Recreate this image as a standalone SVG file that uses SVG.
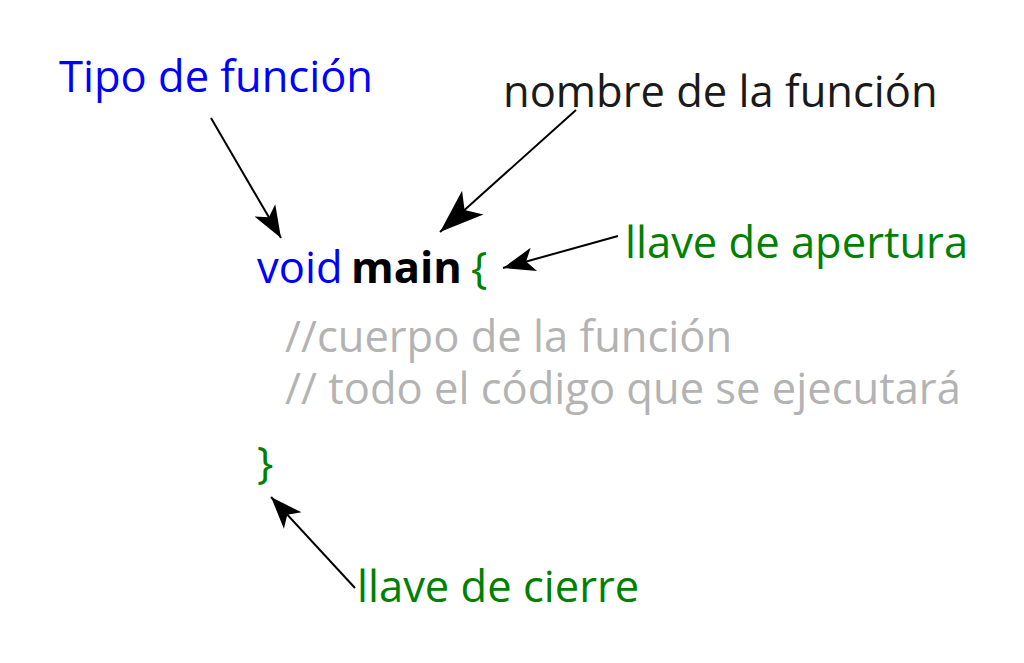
<svg xmlns="http://www.w3.org/2000/svg" width="1024" height="663" viewBox="0 0 1024 663">
<defs>
<style>
text{font-family:"Open Sans","Noto Sans","DejaVu Sans",sans-serif;font-size:43.5px}
.blue{fill:#0000ff}
.green{fill:#008000}
.dark{fill:#1a1a1a}
.gray{fill:#b3b3b3}
.bold{font-weight:bold;fill:#000}
.conn{stroke:#000;stroke-width:2;fill:none}
</style>
<marker id="ah" markerUnits="userSpaceOnUse" orient="auto" overflow="visible" markerWidth="1" markerHeight="1">
<path d="M0,0 L-32,-12 L-24,0 L-32,12 Z" fill="#000"/>
</marker>
<marker id="ahL" markerUnits="userSpaceOnUse" orient="auto" overflow="visible" markerWidth="1" markerHeight="1">
<path d="M0,0 L-44,-16 L-33,0 L-44,16 Z" fill="#000"/>
</marker>
</defs>
<g id="code">
<text x="257" y="283" class="blue">void</text>
<text x="351" y="283" class="bold">main</text>
<text x="471" y="283" class="green">{</text>
<text x="285" y="352" class="gray">//cuerpo de la función</text>
<text x="285" y="404" class="gray">// todo el código que se ejecutará</text>
<text x="257" y="478" class="green">}</text>
</g>
<g id="tipo"><text x="59" y="92" class="blue">Tipo de función</text></g>
<g id="nombre"><text x="503" y="107" class="dark">nombre de la función</text></g>
<g id="apertura"><text x="625" y="258" class="green">llave de apertura</text></g>
<g id="cierre"><text x="357" y="602" class="green">llave de cierre</text></g>
<g id="connectors">
<line class="conn" x1="211" y1="118" x2="281" y2="238" marker-end="url(#ah)"/>
<line class="conn" x1="576" y1="110" x2="440" y2="232" marker-end="url(#ahL)"/>
<line class="conn" x1="618" y1="236" x2="503" y2="268" marker-end="url(#ah)"/>
<line class="conn" x1="355" y1="588" x2="271" y2="497" marker-end="url(#ah)"/>
</g>
</svg>
